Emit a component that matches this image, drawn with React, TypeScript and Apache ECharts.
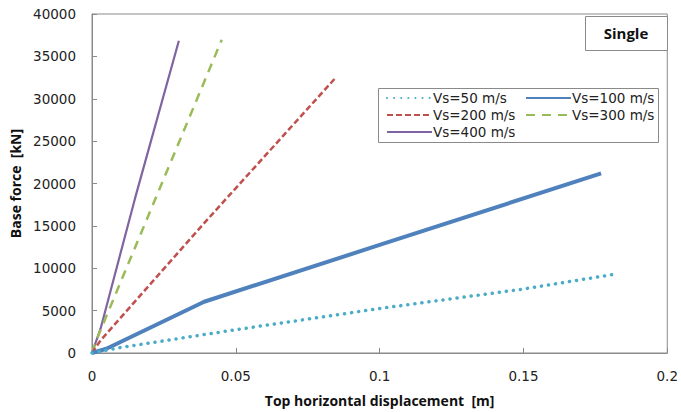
import React, { useEffect, useRef } from "react";
import * as echarts from "echarts";

const seriesNames = ["Vs=50 m/s", "Vs=100 m/s", "Vs=200 m/s", "Vs=300 m/s", "Vs=400 m/s"];
const vs50: [number, number][] = [[0, 0], [0.01, 650], [0.05, 2750], [0.1, 5250], [0.15, 7550], [0.182, 9300]];
const vs100: [number, number][] = [[0, 0], [0.005, 500], [0.039, 6050], [0.1, 12750], [0.177, 21200]];
const vs200: [number, number][] = [[0, 0], [0.003, 1500], [0.04, 15700], [0.0845, 32400]];
const vs300: [number, number][] = [[0, 0], [0.002, 1900], [0.0451, 36950]];
const vs400: [number, number][] = [[0, 0], [0.003, 2900], [0.015, 18300], [0.0302, 36850]];
const xTicks = { min: 0, max: 0.2, interval: 0.05 };
const yTicks = { min: 0, max: 40000, interval: 5000 };

const colors = ["#4BACC6", "#4F81BD", "#C0504D", "#9BBB59", "#8064A2"];
const FONT = "DejaVu Sans";
const BOLD = "Open Sans";

export default function App() {
  const ref = useRef<HTMLDivElement>(null);
  useEffect(() => {
    const chart = echarts.init(ref.current!, undefined, { renderer: "svg" });
    const datas = [vs50, vs100, vs200, vs300, vs400];
    const styles: any[] = [
      { width: 3.5, type: [0.1, 7], cap: "round" },
      { width: 4, type: "solid" },
      { width: 2.5, type: [6, 3] },
      { width: 2.5, type: [9, 7] },
      { width: 2.2, type: "solid" },
    ];
    const legendPos = [
      { left: 386, top: 91 },
      { left: 525, top: 91 },
      { left: 386, top: 108 },
      { left: 525, top: 108 },
      { left: 386, top: 125 },
    ];
    const legendIconStyles: any[] = [
      { lineWidth: 3.5, type: [0.1, 7], cap: "round" },
      { lineWidth: 4 },
      { lineWidth: 2.5, type: [6, 3] },
      { lineWidth: 2.5, type: [9, 7] },
      { lineWidth: 2.2 },
    ];
    chart.setOption({
      animation: false,
      textStyle: { fontFamily: FONT },
      grid: { left: 92, right: 11, top: 14, bottom: 55, show: true, borderColor: "#8a8a8a", borderWidth: 1 },
      legend: seriesNames.map((n, i) => ({
        data: [n],
        left: legendPos[i].left,
        top: legendPos[i].top,
        itemWidth: 45,
        itemHeight: 14,
        itemGap: 0,
        padding: 0,
        selectedMode: false,
        textStyle: { fontFamily: FONT, fontSize: 13.5, color: "#222", padding: [0, 0, 0, -4] },
        itemStyle: { opacity: 0 },
        lineStyle: legendIconStyles[i],
      })),
      xAxis: {
        type: "value",
        min: xTicks.min,
        max: xTicks.max,
        interval: xTicks.interval,
        name: "Top horizontal displacement  [m]",
        nameLocation: "middle",
        nameGap: 40,
        nameTextStyle: { fontFamily: BOLD, fontWeight: "bold", fontSize: 14, color: "#111" },
        axisLine: { lineStyle: { color: "#8a8a8a" } },
        axisTick: { inside: true, length: 5, lineStyle: { color: "#8a8a8a" } },
        axisLabel: { fontSize: 13.5, color: "#222", margin: 16 },
        splitLine: { show: false },
      },
      yAxis: {
        type: "value",
        min: yTicks.min,
        max: yTicks.max,
        interval: yTicks.interval,
        name: "Base force  [kN]",
        nameLocation: "middle",
        nameGap: 64,
        nameTextStyle: { fontFamily: BOLD, fontWeight: "bold", fontSize: 14, color: "#111" },
        axisLine: { show: true, lineStyle: { color: "#8a8a8a" } },
        axisTick: { show: true, inside: true, length: 5, lineStyle: { color: "#8a8a8a" } },
        axisLabel: { fontSize: 13.5, color: "#222", margin: 16, formatter: (v: number) => String(v) },
        splitLine: { show: false },
      },
      series: seriesNames.map((n, i) => ({
        name: n,
        type: "line",
        data: datas[i],
        showSymbol: false,
        symbol: "none",
        color: colors[i],
        lineStyle: { color: colors[i], ...styles[i] },
        z: 5 - i,
      })),
      graphic: [
        {
          type: "rect",
          shape: { x: 378.5, y: 88.5, width: 280, height: 54 },
          style: { fill: "#fff", stroke: "#8a8a8a", lineWidth: 1 },
          z: -1,
          silent: true,
        },
        {
          type: "rect",
          shape: { x: 585.5, y: 16.5, width: 82, height: 34 },
          style: { fill: "#fff", stroke: "#8a8a8a", lineWidth: 1 },
          silent: true,
        },
        {
          type: "text",
          x: 626,
          y: 33,
          style: {
            text: "Single",
            fontFamily: BOLD,
            fontWeight: "bold",
            fontSize: 15,
            fill: "#111",
            align: "center",
            verticalAlign: "middle",
          },
          silent: true,
        },
      ],
    });
    return () => chart.dispose();
  }, []);
  return <div ref={ref} style={{ width: 681, height: 412, position: "absolute", left: 0, top: 0 }} />;
}
